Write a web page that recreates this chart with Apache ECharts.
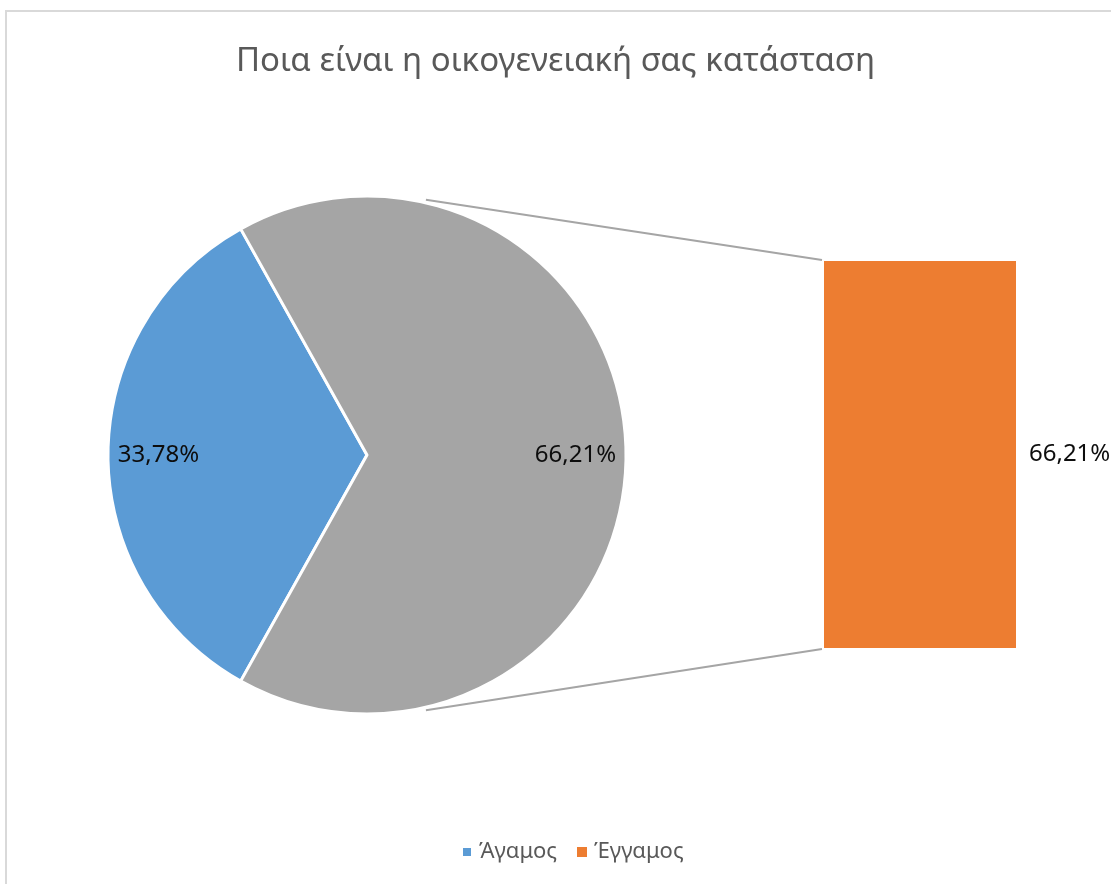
<!DOCTYPE html>
<html>
<head>
<meta charset="utf-8">
<title>Ποια είναι η οικογενειακή σας κατάσταση</title>
<script src="https://cdn.jsdelivr.net/npm/echarts@6/dist/echarts.min.js"></script>
<style>
  html, body { margin: 0; padding: 0; background: #ffffff; }
  #chart { width: 1111px; height: 884px; }
</style>
</head>
<body>
<div id="chart"></div>
<script>
// Marital status: pie of the first category, with the remaining share broken out as a bar
const titleText = 'Ποια είναι η οικογενειακή σας κατάσταση';
const pieCategories = ['Άγαμος', 'Λοιπά'];
const pieValues = [33.78, 66.21];
const barCategories = ['Έγγαμος'];
const barValues = [66.21];
const legendNames = ['Άγαμος', 'Έγγαμος'];

const FONT = '"Noto Sans", "Open Sans", sans-serif';
const BLUE = '#5b9bd5';
const GREY = '#a5a5a5';
const ORANGE = '#ed7d31';
const TEXT = '#595959';
const LABEL = '#0d0d0d';

const pieCenter = [367, 455];
const pieRadius = 259;
// the first slice is centred on the left side of the pie
const pieShare = pieValues[0] / (pieValues[0] + pieValues[1]);
const startAngle = 180 + pieShare * 180;

const fmt = v => v.toFixed(2).replace('.', ',') + '%';

const chart = echarts.init(document.getElementById('chart'), null, { renderer: 'canvas' });

const option = {
  backgroundColor: '#ffffff',
  animation: false,
  title: {
    text: titleText,
    left: 'center',
    top: 40,
    textStyle: { fontFamily: FONT, fontSize: 33, fontWeight: 'normal', color: TEXT }
  },
  legend: {
    data: legendNames,
    bottom: 16,
    left: 456,
    icon: 'rect',
    itemWidth: 10,
    itemHeight: 10,
    itemGap: 20,
    textStyle: { fontFamily: FONT, fontSize: 22, color: TEXT, padding: [0, 0, 0, 2] },
    selectedMode: false
  },
  grid: { left: 824, top: 261, width: 192, height: 387 },
  xAxis: { type: 'category', data: barCategories, show: false },
  yAxis: { type: 'value', min: 0, max: barValues[0], show: false },
  series: [
    {
      name: 'pie',
      type: 'pie',
      center: pieCenter,
      radius: [0, pieRadius],
      startAngle: startAngle,
      clockwise: true,
      label: { show: false },
      labelLine: { show: false },
      itemStyle: { borderColor: '#ffffff', borderWidth: 3 },
      emphasis: { disabled: true },
      data: pieCategories.map((c, i) => ({
        name: c,
        value: pieValues[i],
        itemStyle: { color: i === 0 ? BLUE : GREY }
      }))
    },
    {
      // transparent ring that carries the slice labels at ~80% of the radius
      name: 'pieLabels',
      type: 'pie',
      center: pieCenter,
      radius: [152, pieRadius],
      startAngle: startAngle,
      clockwise: true,
      silent: true,
      itemStyle: { color: 'rgba(0,0,0,0)' },
      label: {
        show: true,
        position: 'inside',
        formatter: p => fmt(p.value),
        fontFamily: FONT,
        fontSize: 24,
        color: LABEL
      },
      labelLine: { show: false },
      emphasis: { disabled: true },
      data: pieCategories.map((c, i) => ({ name: c + ' ', value: pieValues[i] }))
    },
    {
      name: 'Έγγαμος',
      type: 'bar',
      barWidth: '100%',
      itemStyle: { color: ORANGE },
      label: {
        show: true,
        position: 'right',
        distance: 13,
        formatter: p => fmt(p.value),
        fontFamily: FONT,
        fontSize: 24,
        color: LABEL
      },
      emphasis: { disabled: true },
      data: barValues
    }
  ]
};

chart.setOption(option);

// connector lines from the pie edge to the corners of the bar
function drawConnectors() {
  const topLeft = chart.convertToPixel({ gridIndex: 0 }, [0, barValues[0]]);
  const bottom = chart.convertToPixel({ gridIndex: 0 }, [0, 0]);
  const barLeft = 824 - 2;
  const a = 77 * Math.PI / 180;
  const r = pieRadius + 3;
  const px = pieCenter[0] + r * Math.cos(a);
  const pyTop = pieCenter[1] - r * Math.sin(a);
  const pyBot = pieCenter[1] + r * Math.sin(a);
  chart.setOption({
    graphic: [
      {
        type: 'rect',
        shape: { x: 6, y: 11, width: 1200, height: 1000 },
        style: { fill: 'none', stroke: '#d9d9d9', lineWidth: 2 },
        silent: true,
        z: -1
      },
      {
        type: 'line',
        shape: { x1: px, y1: pyTop, x2: barLeft, y2: topLeft[1] - 1 },
        style: { stroke: GREY, lineWidth: 2 },
        silent: true
      },
      {
        type: 'line',
        shape: { x1: px, y1: pyBot, x2: barLeft, y2: bottom[1] + 1 },
        style: { stroke: GREY, lineWidth: 2 },
        silent: true
      }
    ]
  });
}
drawConnectors();
</script>
</body>
</html>
